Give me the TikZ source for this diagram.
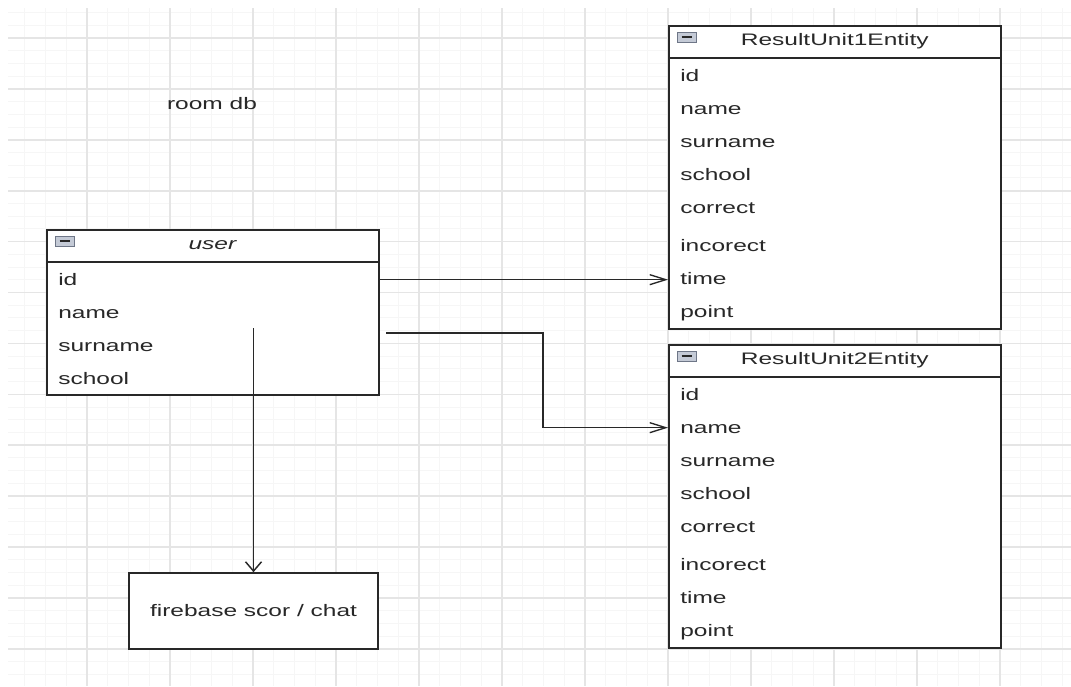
\documentclass[tikz,border=0pt]{standalone}
\usepackage{fontspec}
\setmainfont{Liberation Sans}
\usepackage{graphicx}
\usetikzlibrary{positioning,arrows.meta,calc}
\definecolor{gridmajor}{RGB}{229,229,229}
\definecolor{gridminor}{RGB}{246,246,246}
\definecolor{boxline}{RGB}{40,40,40}
\definecolor{txtgray}{RGB}{40,40,40}
\definecolor{iconfill}{RGB}{196,202,214}
\definecolor{iconline}{RGB}{110,118,135}
\newcommand{\wide}[1]{\scalebox{1.47}[1]{#1}}

\begin{document}
\begin{tikzpicture}[x=0.75pt,y=-0.75pt,font=\fontsize{12.5}{15}\selectfont,text=txtgray,
    tbl/.style={draw=boxline,line width=1.2pt,fill=white,anchor=north west,inner sep=0pt,minimum width=249pt},
    fbbox/.style={draw=boxline,line width=1.2pt,fill=white,inner sep=0pt,minimum width=186.75pt,minimum height=57pt},
    row/.style={anchor=base west,inner sep=0pt,text height=9pt,text depth=1pt},
    minbox/.style={draw=iconline,fill=iconfill,line width=0.6pt,minimum width=14pt,minimum height=7.5pt,inner sep=0pt,
        path picture={\draw[boxline,line width=1pt] ([xshift=3pt]path picture bounding box.west) -- ([xshift=-3pt]path picture bounding box.east);}},
    hto/.style={draw=boxline,line width=1pt,-{Straight Barb[length=12pt,width=7.5pt]}},
    vto/.style={draw=boxline,line width=1.1pt,-{Straight Barb[length=7pt,width=12pt]}}]
    \fill[white] (0,0) rectangle (1071,686);
    \useasboundingbox (0,0) rectangle (1071,686);
    % grid
    \foreach \i in {1,...,51}
        \draw[gridminor,line width=0.75pt] (4+20.75*\i,8) -- (4+20.75*\i,686);
    \foreach \j in {2,...,54}
        \draw[gridminor,line width=0.75pt] (8,-12.9+12.725*\j) -- (1071,-12.9+12.725*\j);
    \foreach \i in {0,...,11}
        \draw[gridmajor,line width=1.2pt] (87+83*\i,8) -- (87+83*\i,686);
    \foreach \j in {0,...,12}
        \draw[gridmajor,line width=1.2pt] (8,38+50.9*\j) -- (1071,38+50.9*\j);

    \node (roomdb) at (212,104) {\wide{room db}};

    % user table
    \node[tbl,minimum height=123.75pt] (user) at (46,229) {};
    \draw[boxline,line width=1.2pt] ([yshift=-24.75pt]user.north west) -- ([yshift=-24.75pt]user.north east);
    \node[minbox] (u-min) at ([xshift=14.25pt,yshift=-9pt]user.north west) {};
    \node (u-title) at ([yshift=-12.4pt]user.north) {\wide{\textit{user}}};
    \foreach \f/\b in {id/56,name/89,surname/122,school/155}
        \node[row] (u-\f) at (58,229+\b) {\wide{\f}};

    % result tables
    \node[tbl,minimum height=227.25pt] (r1) at (668,25) {};
    \draw[boxline,line width=1.2pt] ([yshift=-24.75pt]r1.north west) -- ([yshift=-24.75pt]r1.north east);
    \node[minbox] (r1-min) at ([xshift=14.25pt,yshift=-9pt]r1.north west) {};
    \node (r1-title) at ([yshift=-12.4pt]r1.north) {\wide{ResultUnit1Entity}};
    \foreach \f/\b in {id/56,name/89,surname/122,school/155,correct/188,incorect/226,time/259,point/292}
        \node[row] (r1-\f) at (680,25+\b) {\wide{\f}};

    \node[tbl,minimum height=227.25pt] (r2) at (668,344) {};
    \draw[boxline,line width=1.2pt] ([yshift=-24.75pt]r2.north west) -- ([yshift=-24.75pt]r2.north east);
    \node[minbox] (r2-min) at ([xshift=14.25pt,yshift=-9pt]r2.north west) {};
    \node (r2-title) at ([yshift=-12.4pt]r2.north) {\wide{ResultUnit2Entity}};
    \foreach \f/\b in {id/56,name/89,surname/122,school/155,correct/188,incorect/226,time/259,point/292}
        \node[row] (r2-\f) at (680,344+\b) {\wide{\f}};

    \node[fbbox] (fb) at (253.5,611) {\wide{firebase scor / chat}};

    % connectors
    \draw[hto] (user.east |- u-id) -- (u-id -| r1.west);
    \coordinate (a2) at (386,333);
    \draw[hto] (a2) -- ++(157,0) |- (r2-name -| r2.west);
    \coordinate (a3) at (253.5,328);
    \draw[vto] (a3) -- (fb.north);
\end{tikzpicture}
\end{document}
